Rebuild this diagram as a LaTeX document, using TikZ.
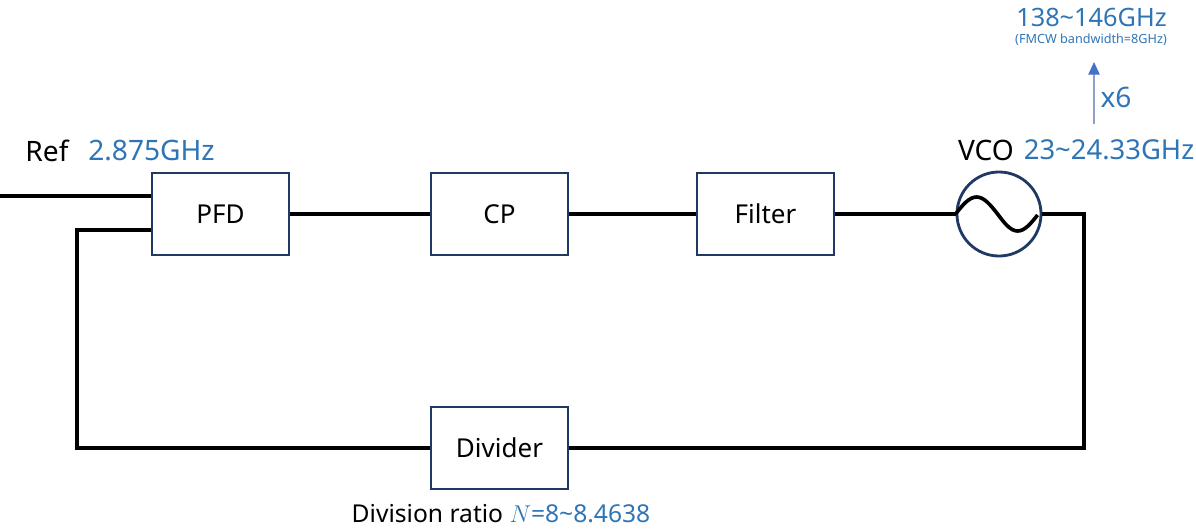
\documentclass[tikz,border=0pt]{standalone}
\usepackage{fontspec}
\setmainfont{Noto Sans}
\usetikzlibrary{arrows.meta}
\definecolor{lblblue}{RGB}{46,117,182}
\definecolor{boxnavy}{RGB}{31,56,100}
\definecolor{arrgray}{RGB}{143,160,200}
\definecolor{tipblue}{RGB}{68,114,196}
\tikzstyle{pllbox}=[rectangle,draw=boxnavy,line width=2pt,minimum width=3.425cm,minimum height=2.05cm,inner sep=0pt,font=\fontsize{18.5}{22}\selectfont]
\tikzstyle{osc}=[circle,draw=boxnavy,line width=2pt,minimum size=2.1cm,inner sep=0pt]
\tikzstyle{wire}=[line width=2.6pt,black]
\tikzstyle{freq}=[text=lblblue,font=\fontsize{20}{24}\selectfont,inner sep=0pt]
\tikzstyle{tag}=[text=black,font=\fontsize{20}{24}\selectfont,inner sep=0pt]

\begin{document}
\begin{tikzpicture}[x=0.025cm,y=-0.025cm]
\useasboundingbox (0,0) rectangle (1196,529);
\node[pllbox] (PFD) at (220.5,214) {PFD};
\node[pllbox] (CP) at (499.5,214) {CP};
\node[pllbox] (Filter) at (765.5,214) {Filter};
\node[osc] (VCO) at (999,214) {};
\node[pllbox] (Div) at (499.5,448) {Divider};
\coordinate (refin) at (0,196);
\coordinate (fbL) at (77,230);
\coordinate (fbR) at (1084,214);
\coordinate (mulA) at (1094,124);
\coordinate (mulB) at (1094,62);
\draw[wire](refin)--(refin -| PFD.west);
\draw[wire](PFD)--(CP);\draw[wire](CP)--(Filter);\draw[wire](Filter)--(VCO);
\draw[wire](VCO.east)--(fbR)|-(Div.east);
\draw[wire](Div.west)-|(fbL)--(fbL -| PFD.west);
\draw[line width=2.6pt](VCO.west) sin ++(21,-17) cos ++(21,17) sin ++(20,17) cos ++(20,-16);
\draw[line width=1.2pt,arrgray,-{Triangle[length=9pt,width=8pt,fill=tipblue,color=tipblue]}](mulA)--(mulB);
\node[tag] (reflbl) at (47,151) {Ref};
\node[freq] (reffreq) at (151.5,151) {2.875GHz};
\node[tag] (vcolbl) at (986,150) {VCO};
\node[freq,font=\fontsize{19.5}{24}\selectfont] (vcofreq) at (1109,150) {23\textasciitilde24.33GHz};
\node[freq] (mul) at (1116,97) {x6};
\node[freq,font=\fontsize{18}{22}\selectfont] (outfreq) at (1091.5,17) {138\textasciitilde146GHz};
\node[text=lblblue,font=\fontsize{9}{10}\selectfont,inner sep=0pt] (bw) at (1091,40) {(FMCW bandwidth=8GHz)};
\node[tag,font=\fontsize{17.5}{20}\selectfont] (ratio) at (501,514) {Division ratio \textcolor{lblblue}{$N$=8\textasciitilde8.4638}};
\end{tikzpicture}
\end{document}
